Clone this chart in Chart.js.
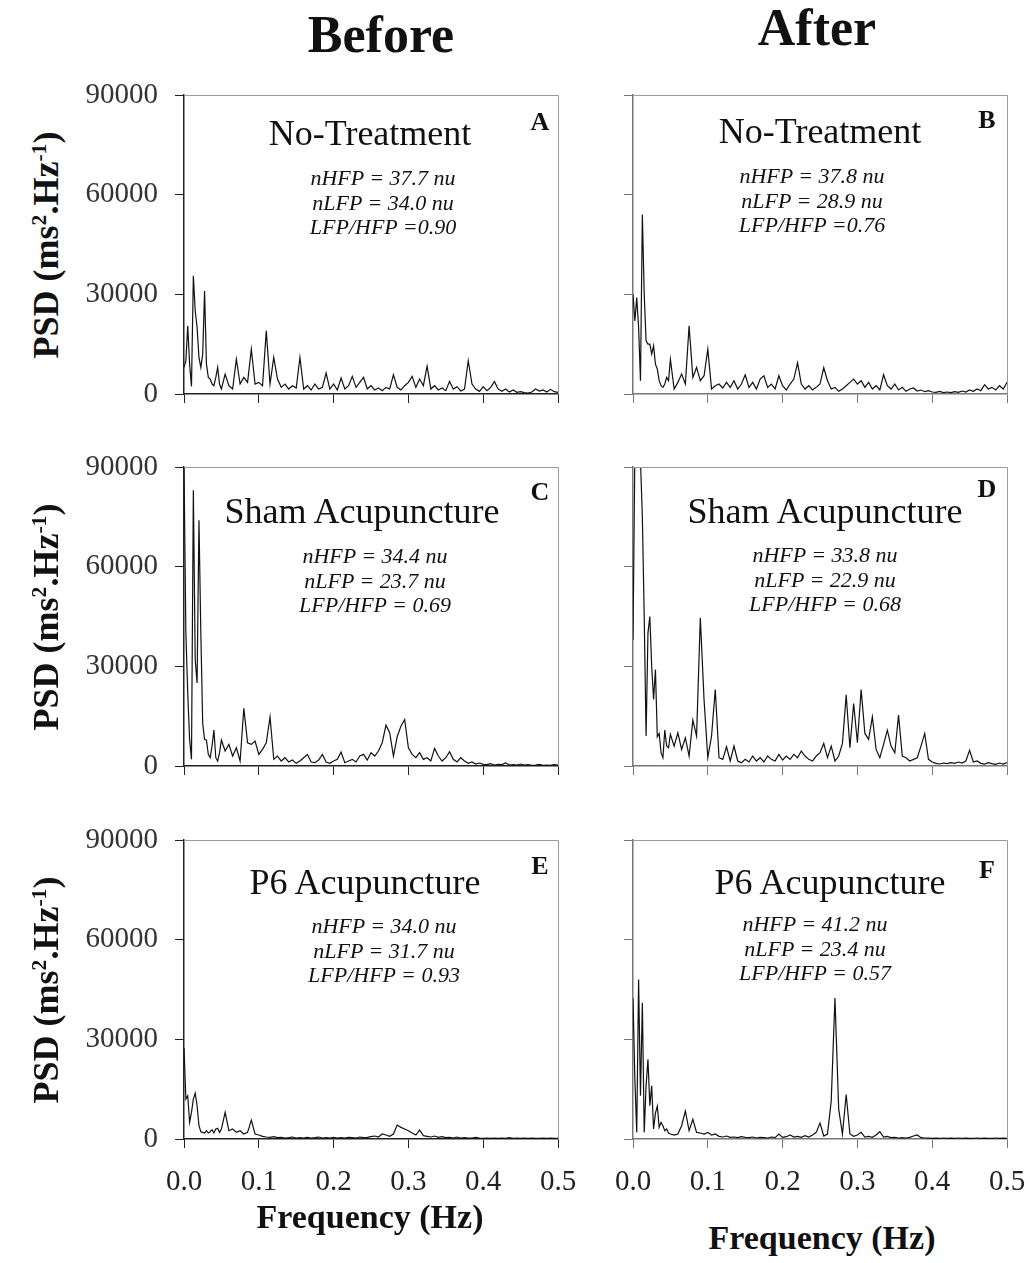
<!DOCTYPE html>
<html>
<head>
<meta charset="utf-8">
<script src="https://cdn.jsdelivr.net/npm/chart.js@4.4.1/dist/chart.umd.min.js"></script>
<style>
  body { margin: 0; background: #fff; }
  #fig { position: relative; width: 1030px; height: 1263px; overflow: hidden; font-family: "Liberation Serif", "Times New Roman", serif; color: #111; }
  #fig canvas { position: absolute; }
  .t { position: absolute; transform: translate(-50%, -50%); white-space: nowrap; line-height: 1; }
  .ylab { position: absolute; transform: translate(-50%, -50%) rotate(-90deg); white-space: nowrap; font-weight: bold; font-size: 36px; line-height: 1; }
  .ylab sup { font-size: 0.6em; vertical-align: 0.55em; }
</style>
</head>
<body>
<div id="fig"></div>
<script>
// frequency grid (Hz): finer below 0.05 Hz
const freqs = [0, 0.0025, 0.005, 0.0075, 0.01, 0.0125, 0.015, 0.0175, 0.02, 0.0225, 0.025, 0.0275, 0.03, 0.0325, 0.035, 0.0375, 0.04, 0.0425, 0.045, 0.0475, 0.05,
  0.055, 0.06, 0.065, 0.07, 0.075, 0.08, 0.085, 0.09, 0.095, 0.1,
  0.105, 0.11, 0.115, 0.12, 0.125, 0.13, 0.135, 0.14, 0.145, 0.15,
  0.155, 0.16, 0.165, 0.17, 0.175, 0.18, 0.185, 0.19, 0.195, 0.2,
  0.205, 0.21, 0.215, 0.22, 0.225, 0.23, 0.235, 0.24, 0.245, 0.25,
  0.255, 0.26, 0.265, 0.27, 0.275, 0.28, 0.285, 0.29, 0.295, 0.3,
  0.305, 0.31, 0.315, 0.32, 0.325, 0.33, 0.335, 0.34, 0.345, 0.35,
  0.355, 0.36, 0.365, 0.37, 0.375, 0.38, 0.385, 0.39, 0.395, 0.4,
  0.405, 0.41, 0.415, 0.42, 0.425, 0.43, 0.435, 0.44, 0.445, 0.45,
  0.455, 0.46, 0.465, 0.47, 0.475, 0.48, 0.485, 0.49, 0.495, 0.5];

const xTicks = [0, 0.1, 0.2, 0.3, 0.4, 0.5];
const yTicks = [0, 30000, 60000, 90000];

// PSD values (ms^2.Hz^-1), one array per panel
const psdA = [8000, 10000, 20500, 9000, 2300, 35600, 25000, 20000, 11000, 8000, 12000, 31000, 9000, 5000, 4500, 3000, 2500, 5000, 8000, 3000, 1500,
  6000, 2500, 1500, 10500, 3000, 5000, 3500, 13500, 3000, 3500,
  2500, 19000, 3000, 11000, 4500, 2000, 3000, 1500, 2500, 1800,
  11000, 1500, 2500, 1200, 3000, 1500, 2000, 6300, 1500, 3000,
  1200, 4800, 1500, 2500, 5300, 2000, 3500, 5000, 1500, 2500,
  1200, 1800, 1000, 2000, 1500, 5800, 2000, 1200, 2500, 3500,
  5300, 2000, 4500, 2500, 8400, 1500, 2500, 1200, 1800, 1000,
  3800, 1500, 2200, 900, 1500, 10000, 3000, 1500, 800, 2200,
  1000, 2000, 3800, 1500, 800, 1500, 600, 1200, 500, 700,
  400, 300, 600, 1500, 900, 1200, 600, 1400, 700, 500];

const psdB = [30000, 22000, 29000, 20000, 4000, 54000, 30000, 16000, 15000, 15000, 12000, 14500, 9000, 7500, 4000, 2500, 2000, 3000, 5000, 4000, 10400,
  1500, 3500, 6000, 3000, 20500, 5000, 8000, 4000, 5500, 13500,
  1500, 2500, 3000, 1800, 3500, 2000, 4000, 1500, 3000, 5800,
  2000, 3500, 1500, 4500, 5500, 2000, 3000, 1500, 5500, 2500,
  1200, 3000, 4500, 9400, 3000, 1500, 2500, 1200, 2000, 3000,
  7900, 4000, 1500, 2000, 800, 1500, 2500, 3500, 4500, 3000,
  4000, 2000, 3500, 1500, 2500, 1200, 5800, 2500, 1500, 3000,
  1200, 2000, 800, 1500, 1800, 900, 1200, 700, 1000, 600,
  500, 800, 400, 600, 400, 700, 500, 900, 600, 1200,
  800, 1500, 1000, 2800, 1500, 2000, 1200, 2500, 1500, 3500];

const psdC = [90000, 40000, 22000, 8000, 2000, 83000, 32000, 25000, 74000, 40000, 12800, 8000, 7800, 3500, 2500, 6000, 10800, 2500, 1500, 4000, 7800,
  4500, 6500, 3000, 5500, 1500, 17400, 7000, 6500, 7500, 3500,
  5000, 7000, 14800, 2000, 3000, 1500, 2500, 1200, 1800, 800,
  1500, 2500, 3500, 1200, 1000, 1800, 3500, 1200, 800, 1500,
  2000, 4200, 1000, 1500, 2000, 1200, 3000, 3500, 1800, 4000,
  3000, 4500, 7000, 12300, 10000, 3000, 8800, 12000, 14000, 5500,
  3500, 2500, 4000, 2000, 2500, 1500, 5300, 3000, 1500, 2500,
  4300, 2000, 1200, 2500, 1500, 800, 1200, 600, 900, 500,
  400, 700, 300, 500, 400, 900, 300, 400, 300, 600,
  300, 400, 200, 300, 500, 200, 300, 200, 400, 300];

const psdD = [38000, 95000, 92000, 95000, 92000, 75000, 45000, 9000, 40000, 45000, 30000, 20000, 29000, 8800, 9800, 4000, 2500, 10800, 6000, 5500, 9500,
  6000, 10000, 5000, 8500, 3000, 13800, 9000, 44600, 19900, 2500,
  9000, 23000, 2500, 2000, 5800, 1500, 6000, 1500, 1000, 2000,
  1200, 3000, 1500, 2500, 1200, 3000, 2000, 1500, 3500, 1800,
  3000, 2000, 3500, 2500, 4500, 3000, 2000, 1500, 3000, 4000,
  6800, 2500, 6000, 1500, 3000, 6800, 21400, 5500, 18800, 7000,
  23000, 9800, 8000, 14800, 5000, 2500, 6500, 10800, 6000, 4000,
  15300, 3000, 2500, 1500, 2000, 2500, 6000, 9800, 2000, 1200,
  800, 600, 900, 700, 1000, 800, 1200, 900, 1500, 4700,
  1200, 1500, 800, 600, 1000, 700, 500, 900, 600, 1000];

const psdE = [27400, 12000, 13000, 5000, 8000, 12000, 13800, 10000, 4000, 2200, 2000, 1800, 2500, 1800, 2200, 2800, 1800, 3000, 3200, 2000, 3000,
  8000, 2500, 3000, 2000, 2500, 1500, 2000, 5700, 1500, 1200,
  800, 600, 500, 700, 400, 500, 300, 400, 600, 300,
  400, 300, 500, 300, 400, 600, 300, 400, 300, 500,
  300, 400, 300, 500, 400, 300, 600, 400, 500, 700,
  900, 600, 1500, 1200, 800, 1500, 4200, 3500, 3000, 2500,
  1800, 1200, 2700, 1000, 800, 600, 900, 500, 700, 400,
  500, 300, 600, 300, 400, 250, 300, 500, 250, 200,
  300, 200, 250, 200, 300, 200, 400, 200, 250, 200,
  300, 200, 250, 200, 200, 300, 200, 250, 200, 200];

const psdF = [42400, 18000, 2000, 48000, 13000, 41000, 2000, 16000, 24000, 10000, 16000, 3000, 7800, 9900, 3500, 5000, 4000, 2500, 3000, 1800, 1500,
  1200, 1500, 4000, 8400, 2500, 5900, 2000, 1800, 1500, 2000,
  1200, 1500, 800, 600, 900, 500, 600, 400, 700, 500,
  400, 600, 300, 500, 400, 300, 600, 400, 1500, 500,
  700, 1200, 600, 800, 500, 1000, 600, 1200, 2000, 4800,
  900, 1500, 11400, 42400, 9000, 1500, 13400, 1500, 800, 1200,
  2000, 600, 800, 500, 1200, 2200, 600, 800, 400, 500,
  300, 400, 300, 500, 900, 1200, 400, 300, 250, 200,
  250, 200, 300, 200, 250, 200, 300, 200, 250, 200,
  200, 300, 200, 250, 200, 200, 300, 200, 250, 200];

const panelTitles = ['No-Treatment', 'No-Treatment', 'Sham Acupuncture', 'Sham Acupuncture', 'P6 Acupuncture', 'P6 Acupuncture'];
const panelLetters = ['A', 'B', 'C', 'D', 'E', 'F'];
const statLines = [
  ['nHFP = 37.7 nu', 'nLFP = 34.0 nu', 'LFP/HFP =0.90'],
  ['nHFP = 37.8 nu', 'nLFP = 28.9 nu', 'LFP/HFP =0.76'],
  ['nHFP = 34.4 nu', 'nLFP = 23.7 nu', 'LFP/HFP = 0.69'],
  ['nHFP = 33.8 nu', 'nLFP = 22.9 nu', 'LFP/HFP = 0.68'],
  ['nHFP = 34.0 nu', 'nLFP = 31.7 nu', 'LFP/HFP = 0.93'],
  ['nHFP = 41.2 nu', 'nLFP = 23.4 nu', 'LFP/HFP = 0.57']
];
const allPsd = [psdA, psdB, psdC, psdD, psdE, psdF];

// layout
const fig = document.getElementById('fig');
const PLOT_W = 374, PLOT_H = 299;
const colX = [184, 633];
const rowY = [95, 467, 840];
const PAD_L = 110, PAD_T = 20, PAD_R = 30, PAD_B = 75;

const titlePos = [[370, 133], [820, 131], [362, 511], [825, 511], [365, 882], [830, 882]];
const letterPos = [[540, 122], [987, 120], [540, 492], [987, 489], [540, 866], [987, 870]];
const statPos = [[383, 203], [812, 201], [375, 581], [825, 580], [384, 951], [815, 949]];

const boxLines = {
    id: 'boxLines',
    afterDraw(chart) {
        const a = chart.chartArea;
        const ctx = chart.ctx;
        ctx.save();
        ctx.strokeStyle = '#9a9a9a';
        ctx.lineWidth = 1;
        ctx.beginPath();
        ctx.moveTo(a.left, a.top + 0.5);
        ctx.lineTo(a.right + 0.5, a.top + 0.5);
        ctx.lineTo(a.right + 0.5, a.bottom);
        ctx.stroke();
        ctx.restore();
    }
};

function addText(html, x, y, css) {
    const d = document.createElement('div');
    d.className = 't';
    d.innerHTML = html;
    d.style.left = x + 'px';
    d.style.top = y + 'px';
    Object.assign(d.style, css || {});
    fig.appendChild(d);
    return d;
}

function makePanel(k) {
    const col = k % 2, row = Math.floor(k / 2);
    const axisColor = col === 0 ? '#222' : '#777';
    const canvas = document.createElement('canvas');
    canvas.width = PAD_L + PLOT_W + PAD_R;
    canvas.height = PAD_T + PLOT_H + PAD_B;
    canvas.style.left = (colX[col] - PAD_L) + 'px';
    canvas.style.top = (rowY[row] - PAD_T) + 'px';
    fig.appendChild(canvas);

    const vals = allPsd[k];
    const tickFont = { family: '"Liberation Serif", "Times New Roman", serif', size: 29 };

    new Chart(canvas, {
        type: 'line',
        data: {
            datasets: [{
                data: freqs.map((f, i) => ({ x: f, y: vals[i] })),
                borderColor: '#111',
                borderWidth: 1.2,
                pointRadius: 0,
                tension: 0,
                fill: false
            }]
        },
        options: {
            responsive: false,
            animation: false,
            events: [],
            layout: { padding: { left: 0, top: PAD_T, right: PAD_R, bottom: 0 } },
            plugins: { legend: { display: false }, tooltip: { enabled: false } },
            scales: {
                x: {
                    type: 'linear',
                    min: xTicks[0],
                    max: xTicks[xTicks.length - 1],
                    afterFit: s => { s.height = PAD_B; s.paddingLeft = 0; s.paddingRight = 0; },
                    afterBuildTicks: s => { s.ticks = xTicks.map(v => ({ value: v })); },
                    ticks: {
                        display: row === 2,
                        font: tickFont,
                        color: '#222',
                        padding: 17,
                        maxRotation: 0,
                        callback: v => v.toFixed(1)
                    },
                    grid: { drawOnChartArea: false, drawTicks: true, tickLength: 9, color: axisColor },
                    border: { display: true, color: axisColor, width: 1.5 }
                },
                y: {
                    min: yTicks[0],
                    max: yTicks[yTicks.length - 1],
                    afterFit: s => { s.width = PAD_L; s.paddingTop = 0; s.paddingBottom = 0; },
                    afterBuildTicks: s => { s.ticks = yTicks.map(v => ({ value: v })); },
                    ticks: {
                        display: col === 0,
                        font: tickFont,
                        color: '#333',
                        padding: 17,
                        callback: v => String(v)
                    },
                    grid: { drawOnChartArea: false, drawTicks: true, tickLength: 9, color: axisColor },
                    border: { display: true, color: axisColor, width: 1.5 }
                }
            }
        },
        plugins: [boxLines]
    });

    addText(panelTitles[k], titlePos[k][0], titlePos[k][1], { fontSize: '36px' });
    addText(panelLetters[k], letterPos[k][0], letterPos[k][1], { fontSize: '26px', fontWeight: 'bold' });
    addText(statLines[k].join('<br>'), statPos[k][0], statPos[k][1],
        { fontSize: '22px', fontStyle: 'italic', lineHeight: '24.5px', textAlign: 'center' });
}

for (let k = 0; k < 6; k++) makePanel(k);

// column headers, axis titles
addText('Before', 381, 35, { fontSize: '52px', fontWeight: 'bold' });
addText('After', 817, 28, { fontSize: '52px', fontWeight: 'bold' });
addText('Frequency (Hz)', 370, 1217, { fontSize: '34px', fontWeight: 'bold' });
addText('Frequency (Hz)', 822, 1238, { fontSize: '34px', fontWeight: 'bold' });
rowY.forEach(y => {
    const d = document.createElement('div');
    d.className = 'ylab';
    d.innerHTML = 'PSD (ms<sup>2</sup>.Hz<sup>-1</sup>)';
    d.style.left = '46px';
    d.style.top = (y + PLOT_H / 2) + 'px';
    fig.appendChild(d);
});
</script>
</body>
</html>
